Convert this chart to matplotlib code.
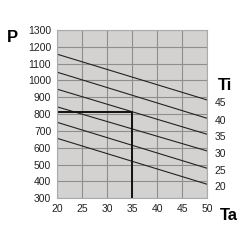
import numpy as np
import matplotlib.pyplot as plt

plt.rcParams['font.family'] = ['Liberation Sans', 'DejaVu Sans']

# ambient temperature Ta vs power P, one line per Ti
ta = [20, 50]
ti = [45, 40, 35, 30, 25, 20]
p_start = [1157, 1050, 949, 844, 752, 657]
p_end = [884, 775, 680, 581, 478, 383]

# reading example
ta_read = 35
p_read = 815

fig = plt.figure(figsize=(2.5, 2.5), dpi=100)
ax = fig.add_axes([0.227, 0.207, 0.602, 0.673])
ax.set_facecolor('#d4d2d0')

for t, a, b in zip(ti, p_start, p_end):
    ax.plot(ta, [a, b], color='#222222', lw=0.8)
    ax.text(51.5, b - 18, str(t), fontsize=7.5, color='#222222', va='center', ha='left', clip_on=False)

ax.plot([20, ta_read, ta_read], [p_read, p_read, 300], color='#111111', lw=1.4)

ax.set_xlim(20, 50)
ax.set_ylim(300, 1300)
ax.set_xticks(np.arange(20, 51, 5))
ax.set_yticks(np.arange(300, 1301, 100))
ax.grid(True, color='#8e8e8e', lw=0.8)
ax.set_axisbelow(True)
ax.tick_params(length=0, labelsize=7.5, labelcolor='#222222', pad=4)
for s in ax.spines.values():
    s.set_color('#aaaaaa')
    s.set_linewidth(0.8)

fig.text(12 / 250, 1 - 37 / 250, 'P', fontsize=12, fontweight='bold', ha='center', va='center')
fig.text(225 / 250, 1 - 86 / 250, 'Ti', fontsize=12, fontweight='bold', ha='center', va='center')
fig.text(229 / 250, 1 - 215 / 250, 'Ta', fontsize=12, fontweight='bold', ha='center', va='center')

plt.savefig('out.png', dpi=100)
